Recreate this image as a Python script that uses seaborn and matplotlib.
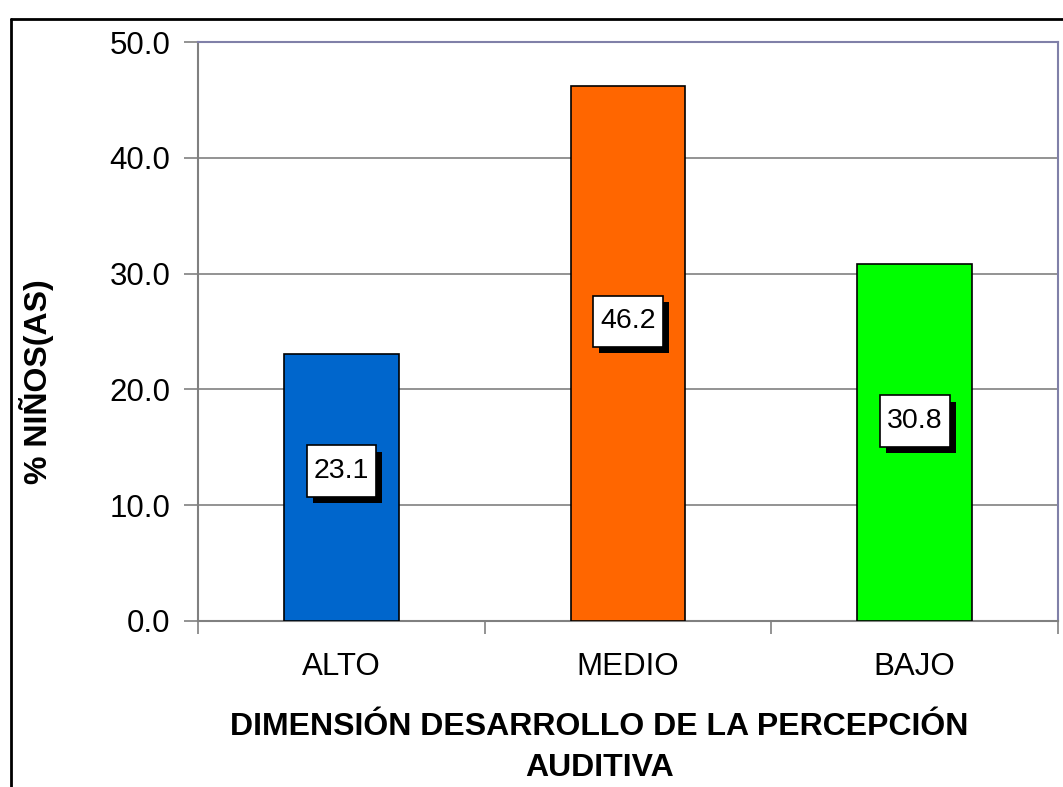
import matplotlib
matplotlib.use('Agg')
import matplotlib.pyplot as plt
import matplotlib.patheffects as pe
from matplotlib.path import Path
from matplotlib.lines import Line2D
import seaborn as sns
import pandas as pd

# Chart data
categorias = ['ALTO', 'MEDIO', 'BAJO']
porcentajes = [23.1, 46.2, 30.8]
colores = ['#0066CC', '#FF6600', '#00FF00']
y_ticks = [0, 10, 20, 30, 40, 50]

df = pd.DataFrame({'Nivel': categorias, 'Porcentaje': porcentajes})

sns.set_style('white')
plt.rcParams['font.family'] = ['Liberation Sans', 'DejaVu Sans']
plt.rcParams['text.color'] = 'black'
plt.rcParams['axes.labelcolor'] = 'black'
plt.rcParams['xtick.color'] = 'black'
plt.rcParams['ytick.color'] = 'black'


def caja_etiqueta(x0, y0, width, height, mutation_size):
    # rectangle with more vertical than horizontal padding
    px = 0.25 * mutation_size
    py = 0.45 * mutation_size
    x0, y0 = x0 - px, y0 - py
    x1, y1 = x0 + width + 2 * px, y0 + height + 2 * py
    return Path([(x0, y0), (x1, y0), (x1, y1), (x0, y1), (x0, y0)], closed=True)


fig = plt.figure(figsize=(10.63, 7.87), dpi=100)
ax = fig.add_axes([198 / 1063, 1 - 621 / 787, (1058 - 198) / 1063, (621 - 42) / 787])

sns.barplot(data=df, x='Nivel', y='Porcentaje', hue='Nivel', palette=colores, saturation=1,
            width=0.4, edgecolor='black', linewidth=1.2, legend=False, ax=ax, zorder=3)

ax.set_xlim(-0.5, 2.5)
ax.set_ylim(0, 50)
ax.set_yticks(y_ticks)
ax.set_yticklabels([f'{v:.1f}' for v in y_ticks], fontsize=22.5)
ax.yaxis.grid(True, color='#808080', linewidth=1.2, zorder=0)
ax.set_axisbelow(True)

# x ticks at category boundaries, labels at centers
ax.set_xticks([-0.5, 0.5, 1.5, 2.5])
ax.set_xticklabels([])
ax.set_xticks([0, 1, 2], minor=True)
ax.set_xticklabels(categorias, minor=True, fontsize=22.5)
ax.tick_params(axis='x', which='major', length=9, width=1.2, color='#808080', direction='out')
ax.tick_params(axis='x', which='minor', length=0, pad=22)
ax.tick_params(axis='y', length=10, width=1.2, color='#808080', direction='out', pad=10)
ax.tick_params(axis='both', bottom=True, left=True)

for side in ['left', 'bottom']:
    ax.spines[side].set_color('#808080')
    ax.spines[side].set_linewidth(1.5)
for side in ['top', 'right']:
    ax.spines[side].set_color('#8080A8')
    ax.spines[side].set_linewidth(1.5)

ax.set_xlabel('DIMENSIÓN DESARROLLO DE LA PERCEPCIÓN\nAUDITIVA', fontsize=23,
              fontweight='bold', linespacing=1.45)
ax.xaxis.set_label_coords(0.467, -0.158)
ax.set_ylabel('% NIÑOS(AS)', fontsize=23, fontweight='bold')
ax.yaxis.set_label_coords(-0.167, 0.414)

# value labels in white boxes with a black drop shadow
for i, v in enumerate(porcentajes):
    t = ax.text(i, v * 0.56, f'{v:.1f}', ha='center', va='center', fontsize=20.5, color='black',
                zorder=5, bbox=dict(boxstyle=caja_etiqueta, facecolor='white',
                                    edgecolor='black', linewidth=1.2))
    t.get_bbox_patch().set_path_effects([
        pe.withSimplePatchShadow(offset=(4.5, -4.5), shadow_rgbFace='black', alpha=1.0)])

# outer chart border (left and top visible)
fig.add_artist(Line2D([11 / 1063, 11 / 1063], [0, 1 - 19 / 787], color='black', linewidth=2,
                      transform=fig.transFigure))
fig.add_artist(Line2D([11 / 1063, 1], [1 - 19 / 787, 1 - 19 / 787], color='black', linewidth=2,
                      transform=fig.transFigure))

fig.savefig('out.png', dpi=100)
